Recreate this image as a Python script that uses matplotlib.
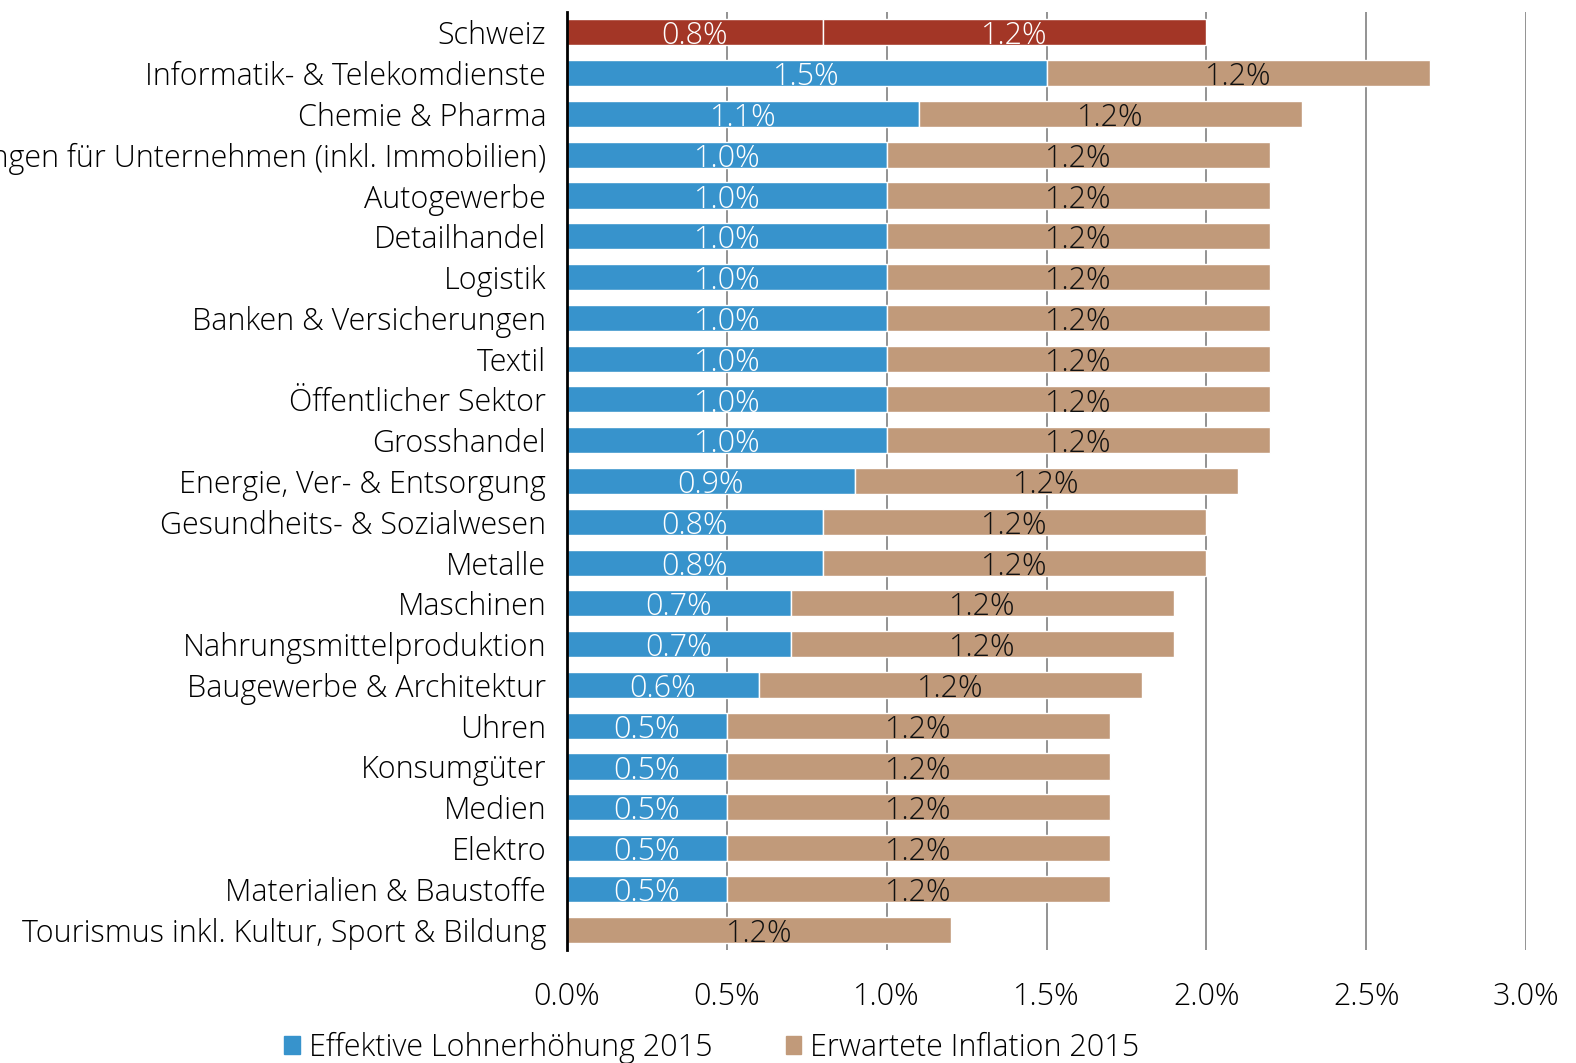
import matplotlib.pyplot as plt
from matplotlib.patches import Patch
import numpy as np

plt.rcParams['font.family'] = ['Open Sans', 'DejaVu Sans']
plt.rcParams['font.weight'] = 'light'

categories = [
    "Schweiz",
    "Informatik- & Telekomdienste",
    "Chemie & Pharma",
    "Dienstleistungen für Unternehmen (inkl. Immobilien)",
    "Autogewerbe",
    "Detailhandel",
    "Logistik",
    "Banken & Versicherungen",
    "Textil",
    "Öffentlicher Sektor",
    "Grosshandel",
    "Energie, Ver- & Entsorgung",
    "Gesundheits- & Sozialwesen",
    "Metalle",
    "Maschinen",
    "Nahrungsmittelproduktion",
    "Baugewerbe & Architektur",
    "Uhren",
    "Konsumgüter",
    "Medien",
    "Elektro",
    "Materialien & Baustoffe",
    "Tourismus inkl. Kultur, Sport & Bildung",
]
lohn = [0.8, 1.5, 1.1, 1.0, 1.0, 1.0, 1.0, 1.0, 1.0, 1.0, 1.0, 0.9, 0.8, 0.8,
        0.7, 0.7, 0.6, 0.5, 0.5, 0.5, 0.5, 0.5, 0.0]
inflation = [1.2] * 23
xticks = [0.0, 0.5, 1.0, 1.5, 2.0, 2.5, 3.0]

BLUE = '#3793CC'
TAN = '#C19A7A'
RED = '#A33626'

fig = plt.figure(figsize=(15.76, 10.63), dpi=100)
ax = fig.add_axes([567 / 1576, 1 - 950 / 1063, (1526 - 567) / 1576, (950 - 12) / 1063])

y = np.arange(len(categories))
c1 = [RED if i == 0 else BLUE for i in range(len(categories))]
c2 = [RED if i == 0 else TAN for i in range(len(categories))]
ax.barh(y, lohn, height=0.64, color=c1, edgecolor='white', linewidth=1, zorder=3)
ax.barh(y, inflation, left=lohn, height=0.64, color=c2, edgecolor='white', linewidth=1, zorder=3)

# labels sit a bit low in the bars, like the original
for i in range(len(categories)):
    if lohn[i] > 0:
        ax.text(lohn[i] / 2, i + 0.1, f"{lohn[i]:.1f}%", ha='center', va='center',
                color='white', fontsize=22, zorder=4)
    ax.text(lohn[i] + inflation[i] / 2, i + 0.1, f"{inflation[i]:.1f}%", ha='center', va='center',
            color='white' if i == 0 else '#111111', fontsize=22, zorder=4)

ax.set_ylim(len(categories) - 0.5, -0.5)
ax.set_xlim(0, 3.0)
ax.set_yticks(y)
ax.set_yticklabels(categories, fontsize=22)
ax.tick_params(axis='y', length=0, pad=15)
ax.set_xticks(xticks)
ax.set_xticklabels([f"{t:.1f}%" for t in xticks], fontsize=22)
ax.tick_params(axis='x', length=0, pad=22)
ax.grid(axis='x', color='#808080', linewidth=1.2, zorder=1)
for s in ['top', 'right', 'bottom']:
    ax.spines[s].set_visible(False)
ax.spines['left'].set_linewidth(2)
ax.spines['left'].set_color('black')
ax.spines['left'].set_zorder(5)

handles = [Patch(color=BLUE, label='Effektive Lohnerhöhung 2015'),
           Patch(color=TAN, label='Erwartete Inflation 2015')]
fig.legend(handles=handles, loc='center', bbox_to_anchor=(712 / 1576, 1 - 1048 / 1063),
           ncol=2, frameon=False, fontsize=22, handlelength=0.5, handleheight=0.5,
           handletextpad=0.3, columnspacing=2.4, borderpad=0)

fig.savefig('out.png', dpi=100)
